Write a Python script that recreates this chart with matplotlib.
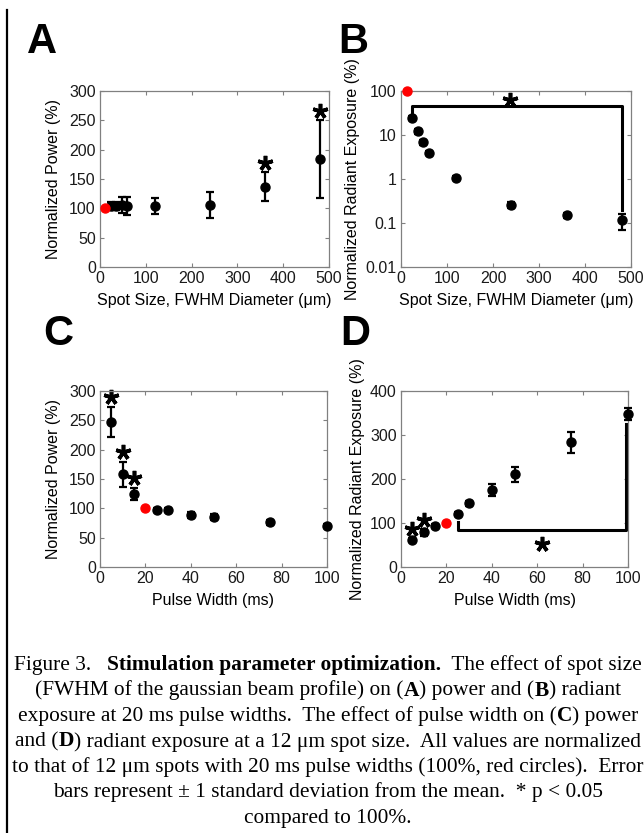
import matplotlib
matplotlib.use('Agg')
import matplotlib.pyplot as plt
from matplotlib.lines import Line2D

# Datos (valores normalizados, %)
spot_size = [12, 24, 36, 48, 60, 120, 240, 360, 480]
power_spot = [100, 104, 104, 106, 104, 104, 106, 137, 184]
power_spot_err = [0, 6, 6, 14, 16, 14, 22, 25, 66]
rad_spot = [100, 24.4, 12.3, 6.8, 4.0, 1.04, 0.26, 0.15, 0.115]
rad_spot_err = [0, 3, 1.5, 0.8, 0.4, 0.1, 0.04, 0.02, 0.045]

pulse_width = [5, 10, 15, 20, 25, 30, 40, 50, 75, 100]
power_pulse = [247, 158, 125, 100, 97, 97, 88, 85, 76, 70]
power_pulse_err = [26, 21, 10, 0, 4, 4, 5, 5, 4, 3]
rad_pulse = [62, 79, 93, 100, 120, 145, 175, 211, 283, 348]
rad_pulse_err = [4, 8, 4, 0, 5, 6, 13, 17, 23, 14]

# indice del punto de referencia (rojo) y puntos significativos
ref_spot = 0
ref_pulse = 3
sig_A = [7, 8]
sig_C = [0, 1, 2]
sig_D = [0, 1]

caption = [
    [("Figure 3.   ", False), ("Stimulation parameter optimization.", True),
     ("  The effect of spot size", False)],
    [("(FWHM of the gaussian beam profile) on (", False), ("A", True),
     (") power and (", False), ("B", True), (") radiant", False)],
    [("exposure at 20 ms pulse widths.  The effect of pulse width on (", False),
     ("C", True), (") power", False)],
    [("and (", False), ("D", True),
     (") radiant exposure at a 12 \u03bcm spot size.  All values are normalized", False)],
    [("to that of 12 \u03bcm spots with 20 ms pulse widths (100%, red circles).  Error", False)],
    [("bars represent \u00b1 1 standard deviation from the mean.  * p < 0.05", False)],
    [("compared to 100%.", False)],
]

plt.rcParams['font.family'] = ['Liberation Sans', 'DejaVu Sans']

W, H = 644, 833
fig = plt.figure(figsize=(W / 100, H / 100), dpi=100)

GRIS = '#808080'
STAR = (5, 2, 0)


def caja(l, t, r, b):
    return fig.add_axes([l / W, 1 - b / H, (r - l) / W, (b - t) / H])


def estilo(ax):
    ax.tick_params(direction='in', top=True, right=True, length=3, width=0.8,
                   color=GRIS, labelsize=11.5, labelcolor='#1a1a1a', pad=3)
    ax.minorticks_off()
    for s in ax.spines.values():
        s.set_color(GRIS)
        s.set_linewidth(0.9)


def puntos(ax, x, y, err, ref):
    xs = [v for i, v in enumerate(x) if i != ref]
    ys = [v for i, v in enumerate(y) if i != ref]
    es = [v for i, v in enumerate(err) if i != ref]
    ax.errorbar(xs, ys, yerr=es, fmt='o', color='k', ms=6.5, elinewidth=1.6,
                capsize=2.8, capthick=1.6, clip_on=False, zorder=3)
    ax.plot(x[ref], y[ref], 'o', color='#ff0000', ms=6.5, clip_on=False, zorder=4)


def estrellas(ax, x, y, err, idx, dy, dx=0):
    for i in idx:
        ax.plot(x[i] + dx, y[i] + err[i] + dy, marker=STAR, ms=11, mew=2.6,
                color='k', clip_on=False)


# ---- A: potencia vs tamaño de spot
axA = caja(100, 91, 329, 267)
puntos(axA, spot_size, power_spot, power_spot_err, ref_spot)
estrellas(axA, spot_size, power_spot, power_spot_err, sig_A, 16)
axA.set_xlim(0, 500)
axA.set_ylim(0, 300)
axA.set_xticks(range(0, 501, 100))
axA.set_yticks(range(0, 301, 50))
axA.set_xlabel('Spot Size, FWHM Diameter (\u03bcm)', fontsize=11.5, labelpad=5)
axA.set_ylabel('Normalized Power (%)', fontsize=11.5, labelpad=6)
estilo(axA)

# ---- B: exposicion radiante vs tamaño de spot (log)
axB = caja(401, 91, 631, 267)
puntos(axB, spot_size, rad_spot, rad_spot_err, ref_spot)
axB.set_yscale('log')
axB.set_xlim(0, 500)
axB.set_ylim(0.01, 100)
axB.set_xticks(range(0, 501, 100))
axB.set_yticks([0.01, 0.1, 1, 10, 100])
axB.set_yticklabels(['0.01', '0.1', '1', '10', '100'])
# corchete de significancia
nivel = 45
x1, x2 = spot_size[1], spot_size[-1]
y1 = (rad_spot[1] + rad_spot_err[1]) * 1.12
y2 = (rad_spot[-1] + rad_spot_err[-1]) * 1.25
axB.plot([x1, x1, x2, x2], [y1, nivel, nivel, y2], color='k', lw=2.2)
axB.plot((x1 + x2) / 2 - 16, nivel * 1.4, marker=STAR, ms=11, mew=2.6, color='k')
axB.set_xlabel('Spot Size, FWHM Diameter (\u03bcm)', fontsize=11.5, labelpad=5)
axB.set_ylabel('Normalized Radiant Exposure (%)', fontsize=11.5, labelpad=4)
estilo(axB)

# ---- C: potencia vs ancho de pulso
axC = caja(100, 391, 327, 567)
puntos(axC, pulse_width, power_pulse, power_pulse_err, ref_pulse)
estrellas(axC, pulse_width, power_pulse, power_pulse_err, sig_C, 17)
axC.set_xlim(0, 100)
axC.set_ylim(0, 300)
axC.set_xticks(range(0, 101, 20))
axC.set_yticks(range(0, 301, 50))
axC.set_xlabel('Pulse Width (ms)', fontsize=11.5, labelpad=5)
axC.set_ylabel('Normalized Power (%)', fontsize=11.5, labelpad=6)
estilo(axC)

# ---- D: exposicion radiante vs ancho de pulso
axD = caja(401, 391, 628, 567)
puntos(axD, pulse_width, rad_pulse, rad_pulse_err, ref_pulse)
estrellas(axD, pulse_width, rad_pulse, rad_pulse_err, sig_D, 20)
nivel = 84
x1, x2 = pulse_width[4], pulse_width[-1] - 0.7
y1 = rad_pulse[4] - rad_pulse_err[4] - 12
y2 = rad_pulse[-1] - rad_pulse_err[-1] - 10
axD.plot([x1, x1, x2, x2], [y1, nivel, nivel, y2], color='k', lw=2.2)
axD.plot((x1 + x2) / 2, nivel - 31, marker=STAR, ms=11, mew=2.6, color='k')
axD.set_xlim(0, 100)
axD.set_ylim(0, 400)
axD.set_xticks(range(0, 101, 20))
axD.set_yticks(range(0, 401, 100))
axD.set_xlabel('Pulse Width (ms)', fontsize=11.5, labelpad=5)
axD.set_ylabel('Normalized Radiant Exposure (%)', fontsize=11.5, labelpad=4)
estilo(axD)

# letras de los paneles
for letra, x, y in [('A', 27, 53), ('B', 338, 53), ('C', 43, 345), ('D', 340, 345)]:
    fig.text(x / W, 1 - y / H, letra, fontsize=30, fontweight='bold', va='baseline')

# linea vertical a la izquierda
fig.add_artist(Line2D([7 / W, 7 / W], [0, 1 - 10 / H], color='k', lw=1.6))

# pie de figura, linea por linea, centrado
r = fig.canvas.get_renderer()
for n, linea in enumerate(caption):
    y = 1 - (670 + 25.5 * n) / H
    textos = []
    for s, negrita in linea:
        t = fig.text(0, y, s, family='Liberation Serif', fontsize=15.4,
                     fontweight='bold' if negrita else 'normal', va='baseline')
        textos.append(t)
    anchos = [t.get_window_extent(r).width for t in textos]
    x = 328 - sum(anchos) / 2
    for t, a in zip(textos, anchos):
        t.set_x(x / W)
        x += a

fig.savefig('out.png', dpi=100)
